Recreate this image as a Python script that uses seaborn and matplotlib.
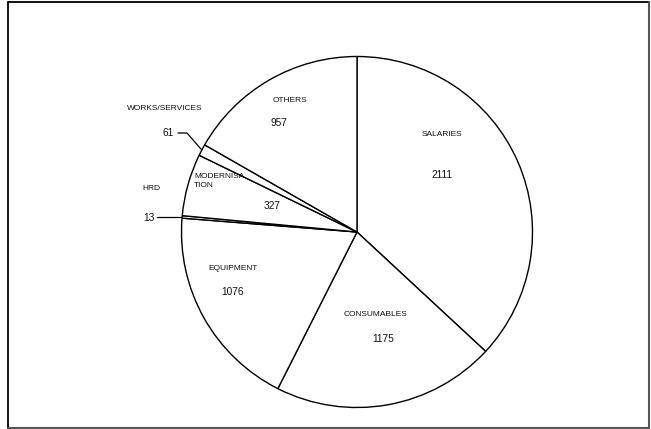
import matplotlib
matplotlib.use("Agg")
import matplotlib.pyplot as plt
from matplotlib.lines import Line2D
import numpy as np
import seaborn as sns

# Budget heads and amounts
categories = ["SALARIES", "CONSUMABLES", "EQUIPMENT", "HRD",
              "MODERNISA\nTION", "WORKS/SERVICES", "OTHERS"]
amounts = [2111, 1175, 1076, 13, 327, 61, 957]

sns.set_theme(style="white")
plt.rcParams["font.family"] = ["Liberation Sans", "DejaVu Sans"]

W, H, DPI = 651, 429, 100
fig = plt.figure(figsize=(W / DPI, H / DPI), dpi=DPI)
fig.patch.set_facecolor("white")

# pie geometry in pixels
CX, CY, R = 357.0, 232.0, 175.5

ax = fig.add_axes([0, 0, 1, 1])
ax.set_xlim(-CX / R, (W - CX) / R)
ax.set_ylim(-(H - CY) / R, CY / R)
ax.axis("off")


def px(x, y):
    """pixel position (origin top-left) -> data units of the pie axes"""
    return (x - CX) / R, (CY - y) / R


wedges, _ = ax.pie(amounts, radius=1.0, center=(0, 0), startangle=90,
                   counterclock=False, colors=["white"] * len(amounts),
                   wedgeprops=dict(edgecolor="black", linewidth=1.0),
                   frame=False)
ax.set_xlim(-CX / R, (W - CX) / R)
ax.set_ylim(-(H - CY) / R, CY / R)
ax.set_aspect("auto")

# label layout: (name x, name y, name align, value x, value y) in pixels
layout = {
    "SALARIES": (442, 134, "center", 442, 175),
    "CONSUMABLES": (376, 315, "center", 383, 339),
    "EQUIPMENT": (233, 268, "center", 233, 292),
    "HRD": (151, 189, "center", 148.5, 218),
    "MODERNISA\nTION": (194, 181, "left", 272, 206),
    "WORKS/SERVICES": (165, 109, "center", 168.5, 133),
    "OTHERS": (290, 101, "center", 278.5, 123),
}

name_fs, value_fs = 6.0, 7.3
for cat, val in zip(categories, amounts):
    nx, ny, ha, vx, vy = layout[cat]
    x, y = px(nx, ny)
    ax.text(x, y, cat, ha=ha, va="center", fontsize=name_fs,
            color="#111111", linespacing=1.35)
    x, y = px(vx, vy)
    ax.text(x, y, f"{val}", ha="center", va="center", fontsize=value_fs,
            color="#111111")

# leader lines for the two thin slices, ending at each wedge's mid-angle
def mid_point(w):
    ang = np.deg2rad((w.theta1 + w.theta2) / 2)
    return np.cos(ang), np.sin(ang)

hrd = wedges[categories.index("HRD")]
mx, my = mid_point(hrd)
sx, _ = px(157, 0)
ax.plot([sx, mx], [my, my], color="black", lw=0.9)

works = wedges[categories.index("WORKS/SERVICES")]
mx, my = mid_point(works)
x0, y0 = px(178, 133)
x1, _ = px(187, 133)
ax.plot([x0, x1, mx], [y0, y0, my], color="black", lw=0.9)

# chart-area border
L, T, Rr, B = 7.5 / W, 1 - 1.5 / H, 648.5 / W, 1 - 427.5 / H
fig.add_artist(Line2D([L, Rr], [T, T], color="black", lw=1.3))
fig.add_artist(Line2D([L, L], [T, B], color="black", lw=1.3))
fig.add_artist(Line2D([Rr, Rr], [T, B], color="#555555", lw=1.5))
fig.add_artist(Line2D([L, Rr], [B, B], color="#555555", lw=1.5))

fig.savefig("out.png", dpi=DPI, facecolor="white")
